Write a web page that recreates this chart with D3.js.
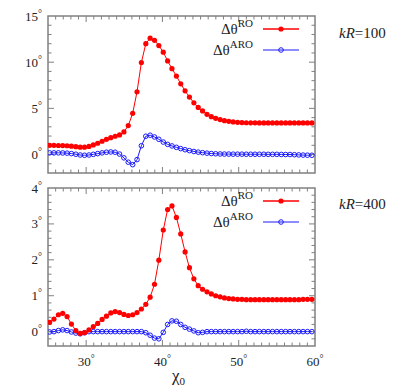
<!DOCTYPE html>
<html><head><meta charset="utf-8">
<script src="https://cdn.jsdelivr.net/npm/d3@7"></script>
<style>body{margin:0;background:#fff}svg{display:block}text{font-family:"Liberation Serif","Times New Roman",serif}</style>
</head><body><svg id="c" width="415" height="387"></svg>
<script>
const chi0 = [25.21,25.78,26.36,26.93,27.50,28.07,28.65,29.22,29.79,30.37,30.94,31.51,32.09,32.66,33.23,33.80,34.38,34.95,35.52,36.10,36.67,37.24,37.82,38.39,38.96,39.53,40.11,40.68,41.25,41.83,42.40,42.97,43.54,44.12,44.69,45.26,45.84,46.41,46.98,47.56,48.13,48.70,49.27,49.85,50.42,50.99,51.57,52.14,52.71,53.29,53.86,54.43,55.00,55.58,56.15,56.72,57.30,57.87,58.44,59.01,59.59];
const ro100 = [1.0,1.0,0.98,0.97,0.95,0.9,0.85,0.8,0.8,0.88,1.04,1.22,1.44,1.65,1.83,1.98,2.12,2.45,3.13,4.46,6.8,9.96,12.0,12.6,12.37,11.8,11.08,10.14,9.3,8.5,7.66,6.9,6.22,5.6,5.1,4.72,4.35,4.1,3.92,3.78,3.67,3.59,3.53,3.49,3.46,3.44,3.43,3.43,3.42,3.42,3.42,3.42,3.42,3.42,3.42,3.42,3.42,3.42,3.42,3.42,3.42];
const aro100 = [0.18,0.18,0.18,0.17,0.15,0.1,0.03,-0.05,-0.08,-0.05,0.02,0.1,0.18,0.25,0.28,0.25,0.05,-0.36,-0.83,-1.1,-0.55,0.95,1.98,2.09,1.9,1.65,1.35,1.1,0.93,0.78,0.64,0.52,0.42,0.33,0.26,0.2,0.15,0.11,0.08,0.06,0.05,0.05,0.04,0.04,0.04,0.03,0.03,0.03,0.03,0.03,0.02,0.02,0.02,0.01,0.0,0.0,-0.02,-0.04,-0.06,-0.07,-0.08];
const ro400 = [0.26,0.35,0.47,0.51,0.42,0.21,0.03,-0.05,-0.03,0.05,0.14,0.23,0.34,0.43,0.52,0.56,0.53,0.48,0.45,0.47,0.53,0.63,0.76,0.96,1.32,1.99,2.83,3.4,3.5,3.18,2.72,2.22,1.78,1.47,1.28,1.18,1.11,1.05,1.0,0.97,0.94,0.92,0.91,0.9,0.9,0.89,0.89,0.89,0.89,0.89,0.89,0.89,0.89,0.89,0.89,0.89,0.89,0.89,0.9,0.9,0.9];
const aro400 = [-0.01,0.0,0.03,0.05,0.03,-0.01,-0.04,-0.06,-0.03,0.0,0.0,0.0,0.0,0.0,0.0,0.0,0.0,0.0,0.0,0.0,0.0,0.0,-0.03,-0.1,-0.18,-0.2,-0.02,0.2,0.3,0.29,0.2,0.12,0.07,0.02,-0.03,-0.02,0.0,0.0,0.0,0.0,0.0,0.0,0.0,0.0,0.0,0.01,0.0,0.0,0.0,0.0,0.0,0.0,0.0,0.0,0.0,0.0,0.0,0.0,0.0,0.0,0.0];
const xTickLabels = [30,40,50,60];
const yTicks100 = [0,5,10,15];
const yTicks400 = [0,1,2,3,4];

const svg = d3.select("#c");
const L = 48, R = 315;
const x = d3.scaleLinear().domain([25,60]).range([L,R]);
const frameColor = "#808080";

const panels = [
  {top:16, bot:173, dom:[-2,15], ro:ro100, aro:aro100, ticks:yTicks100, minor:1, kr:"100", legY:[29,50], krY:38, xlab:false},
  {top:188, bot:346, dom:[-0.4,4], ro:ro400, aro:aro400, ticks:yTicks400, minor:0.2, kr:"400", legY:[201,222], krY:209, xlab:true}
];

panels.forEach(p => {
  const y = d3.scaleLinear().domain(p.dom).range([p.bot,p.top]);
  const g = svg.append("g");
  // minor/major ticks
  const xMinor = d3.range(26,60,1);
  const yMinor = d3.range(Math.ceil(p.dom[0]/p.minor), Math.floor(p.dom[1]/p.minor)+1).map(k=>+(k*p.minor).toFixed(3)).filter(v=>v>p.dom[0]+1e-6 && v<p.dom[1]-1e-6);
  const tk = g.append("g").attr("stroke",frameColor).attr("stroke-width",1);
  xMinor.forEach(v=>{
    const len = (v%10===0)?6:3.5;
    tk.append("line").attr("x1",x(v)).attr("x2",x(v)).attr("y1",p.bot).attr("y2",p.bot-len);
    tk.append("line").attr("x1",x(v)).attr("x2",x(v)).attr("y1",p.top).attr("y2",p.top+len);
  });
  yMinor.forEach(v=>{
    const major = p.ticks.some(t=>Math.abs(t-v)<1e-6);
    const len = major?6:3.5;
    tk.append("line").attr("x1",L).attr("x2",L+len).attr("y1",y(v)).attr("y2",y(v));
    tk.append("line").attr("x1",R).attr("x2",R-len).attr("y1",y(v)).attr("y2",y(v));
  });
  g.append("rect").attr("x",L).attr("y",p.top).attr("width",R-L).attr("height",p.bot-p.top)
    .attr("fill","none").attr("stroke",frameColor).attr("stroke-width",1.5);
  // y labels
  p.ticks.forEach(t=>{
    const tx = g.append("text").attr("x",L-6).attr("y",y(t)+4.5).attr("text-anchor","end")
      .attr("font-size",13).attr("fill","#222");
    tx.append("tspan").text(t);
    tx.append("tspan").attr("font-size",10).attr("dy",-4).text("°");
  });
  if (p.xlab) {
    xTickLabels.forEach(t=>{
      const tx = g.append("text").attr("x",x(t)).attr("y",p.bot+20).attr("text-anchor","middle")
        .attr("font-size",13).attr("fill","#222");
      tx.append("tspan").text(t);
      tx.append("tspan").attr("font-size",10).attr("dy",-4).text("°");
    });
  }
  const line = d3.line().x((d,i)=>x(chi0[i])).y(d=>y(d));
  const clip = "clip"+p.kr;
  svg.append("clipPath").attr("id",clip).append("rect").attr("x",L).attr("y",p.top).attr("width",R-L).attr("height",p.bot-p.top);
  const dg = g.append("g").attr("clip-path",`url(#${clip})`);
  dg.append("path").datum(p.aro).attr("d",line).attr("fill","none").attr("stroke","#1a1aff").attr("stroke-width",1);
  dg.selectAll(".ab").data(p.aro).join("circle").attr("cx",(d,i)=>x(chi0[i])).attr("cy",d=>y(d)).attr("r",2.3)
    .attr("fill","none").attr("stroke","#1a1aff").attr("stroke-width",1);
  dg.append("path").datum(p.ro).attr("d",line).attr("fill","none").attr("stroke","#ff0000").attr("stroke-width",1);
  dg.selectAll(".rb").data(p.ro).join("circle").attr("cx",(d,i)=>x(chi0[i])).attr("cy",d=>y(d)).attr("r",2.6)
    .attr("fill","#ff0000");
  // legend
  const leg = [["RO","#ff0000",true],["ARO","#1a1aff",false]];
  leg.forEach((l,k)=>{
    const ly = p.legY[k];
    const tx = g.append("text").attr("x",253).attr("y",ly+5).attr("text-anchor","end").attr("font-size",15).attr("fill","#222");
    tx.append("tspan").text("Δθ");
    tx.append("tspan").attr("font-size",11).attr("dy",-7).text(l[0]);
    g.append("line").attr("x1",263).attr("x2",299).attr("y1",ly).attr("y2",ly).attr("stroke",l[1]).attr("stroke-width",l[2]?1.3:1);
    if (l[2]) g.append("circle").attr("cx",281).attr("cy",ly).attr("r",2.6).attr("fill",l[1]);
    else g.append("circle").attr("cx",281).attr("cy",ly).attr("r",2.3).attr("fill","none").attr("stroke",l[1]).attr("stroke-width",1);
  });
  const kt = g.append("text").attr("x",339).attr("y",p.krY).attr("font-size",15).attr("fill","#222");
  kt.append("tspan").attr("font-style","italic").text("kR");
  kt.append("tspan").text("=" + p.kr);
});
const xl = svg.append("text").attr("x",172).attr("y",381).attr("font-size",17).attr("fill","#222");
xl.append("tspan").text("χ");
xl.append("tspan").attr("font-size",11).attr("dy",4).text("0");
</script></body></html>
